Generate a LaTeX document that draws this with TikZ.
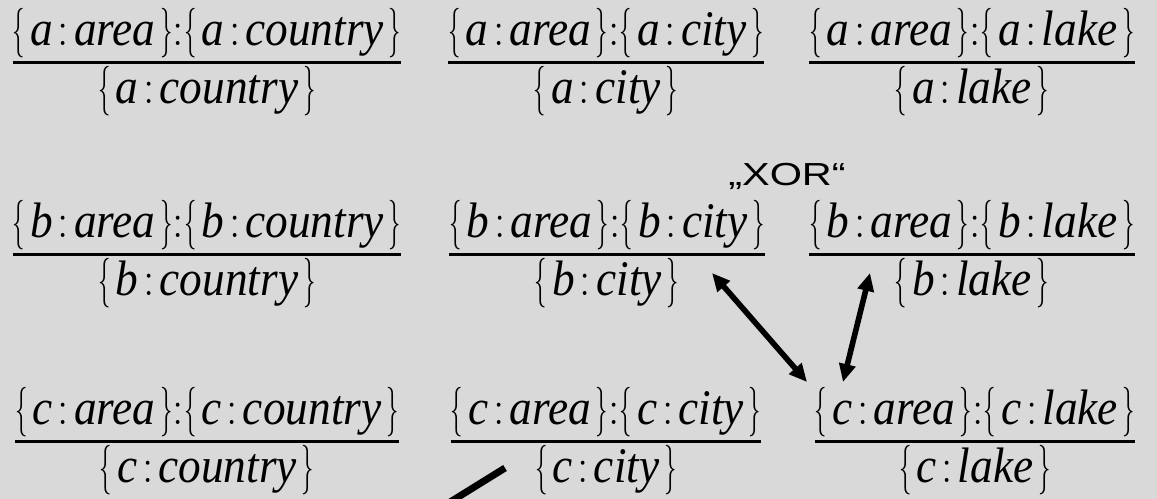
\documentclass[tikz,border=0pt]{standalone}
\usepackage{amsmath}
\usepackage{graphicx}
\usepackage{fontspec}
\setmainfont{Liberation Serif}
\newfontfamily\xorfont{Liberation Sans}
\usetikzlibrary{arrows.meta}

\definecolor{bggray}{RGB}{217,217,217}
\newcommand{\lbr}{\scalebox{0.55}[1]{$\{$}\mkern2mu}
\newcommand{\rbr}{\mkern2mu\scalebox{0.55}[1]{$\}$}}
\newcommand{\ent}[2]{\lbr\textit{#1}\mkern2mu{:}\mkern2mu\textit{#2}\rbr}
\newcommand{\frc}[2]{\scalebox{0.91}[1]{$\genfrac{}{}{1.5pt}{1}{\textstyle #1}{\textstyle #2}$}}

\begin{document}
\begin{tikzpicture}[
    x=0.5bp, y=-0.5bp,
    frc/.style={inner sep=0pt, anchor=base, font=\fontsize{25}{30}\selectfont},
    arr/.style={{Triangle[length=9bp, width=8bp]}-{Triangle[length=9bp, width=8bp]}, line width=2.8bp}]
\fill[bggray] (0,0) rectangle (1157,499);
\useasboundingbox (0,0) rectangle (1157,499);
\clip (0,0) rectangle (1157,499);
% row a
\node[frc] (acountry) at (207,74.5) {\frc{\ent{a}{area}{:}\ent{a}{country}}{\ent{a}{country}}};
\node[frc] (acity) at (606,74.5) {\frc{\ent{a}{area}{:}\ent{a}{city}}{\ent{a}{city}}};
\node[frc] (alake) at (972,74.5) {\frc{\ent{a}{area}{:}\ent{a}{lake}}{\ent{a}{lake}}};
% row b
\node[frc] (bcountry) at (207,266.5) {\frc{\ent{b}{area}{:}\ent{b}{country}}{\ent{b}{country}}};
\node[frc] (bcity) at (607,266.5) {\frc{\ent{b}{area}{:}\ent{b}{city}}{\ent{b}{city}}};
\node[frc] (blake) at (972,266.5) {\frc{\ent{b}{area}{:}\ent{b}{lake}}{\ent{b}{lake}}};
% row c
\node[frc] (ccountry) at (207,453.5) {\frc{\ent{c}{area}{:}\ent{c}{country}}{\ent{c}{country}}};
\node[frc] (ccity) at (606,453.5) {\frc{\ent{c}{area}{:}\ent{c}{city}}{\ent{c}{city}}};
\node[frc] (clake) at (975,453.5) {\frc{\ent{c}{area}{:}\ent{c}{lake}}{\ent{c}{lake}}};
\node[anchor=base, inner sep=0pt, font=\xorfont\fontsize{16}{19}\selectfont] (xor) at (787,186) {\scalebox{1.3}[1]{„XOR“}};
\draw[arr] ([shift={(105,6.5)}]bcity.base) -- ([shift={(-168,-71.5)}]clake.base);
\draw[arr] ([shift={(-102,6.5)}]blake.base) -- ([shift={(-132,-71.5)}]clake.base);
\draw[line width=3.5bp] ([shift={(-101,14.5)}]ccity.base) -- ([shift={(-176,61)}]ccity.base);
\end{tikzpicture}
\end{document}
